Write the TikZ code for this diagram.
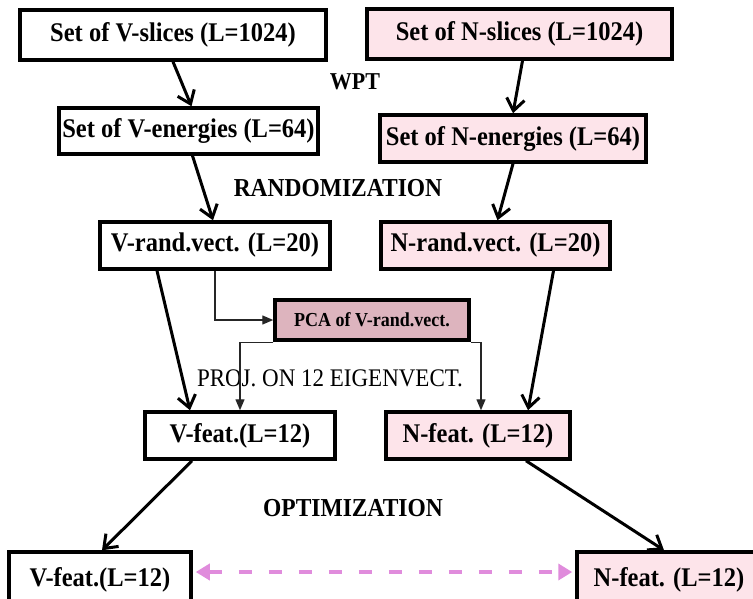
\documentclass[tikz,border=0pt]{standalone}
\usepackage{graphicx}
\usepackage{fontspec}
\setmainfont{Liberation Serif}
\usetikzlibrary{arrows.meta,calc}
\definecolor{npink}{RGB}{253,228,234}
\definecolor{pcapink}{RGB}{221,180,190}
\definecolor{dashpink}{RGB}{224,140,220}
\newcommand{\tallt}[1]{\scalebox{1}[1.1]{#1}}
\begin{document}
\begin{tikzpicture}[x=1pt,y=-1pt,
  box/.style={draw=black, line width=3.5pt, inner sep=0pt, font=\bfseries\fontsize{24.5}{28}\selectfont},
  vbox/.style={box, fill=white},
  nbox/.style={box, fill=npink},
  pcabox/.style={box, fill=pcapink, font=\bfseries\fontsize{18}{22}\selectfont},
  bigarrow/.style={line width=3pt, -{Straight Barb[length=12pt,width=18pt]}},
  thinarrow/.style={line width=1.4pt, draw=black!85, -{Triangle[length=11pt,width=9pt]}},
  dasharrow/.style={line width=4pt, draw=dashpink, dash pattern=on 13pt off 17pt, {Triangle[length=14pt,width=16pt]}-{Triangle[length=14pt,width=16pt]}},
  lab/.style={font=\bfseries\fontsize{23.5}{28}\selectfont},
  plainlab/.style={font=\fontsize{23}{28}\selectfont}]
\useasboundingbox (0,0) rectangle (753,598);
\clip (0,0) rectangle (753,598);
\fill[white] (0,0) rectangle (753,598);

\node[vbox, minimum width=306pt, minimum height=50pt] (v1) at (173,35) {\tallt{Set of V-slices (L=1024)}};
\node[nbox, minimum width=305pt, minimum height=50pt] (n1) at (519.5,34) {\tallt{Set of N-slices (L=1024)}};
\node[vbox, minimum width=259pt, minimum height=46pt] (v2) at (188.5,131) {\tallt{Set of V-energies (L=64)}};
\node[nbox, minimum width=266pt, minimum height=47pt] (n2) at (513,138.5) {\tallt{Set of N-energies (L=64)}};
\node[vbox, minimum width=230pt, minimum height=47pt] (v3) at (215,245.5) {\tallt{V-rand.vect. (L=20)}};
\node[nbox, minimum width=229pt, minimum height=47pt] (n3) at (495.5,245.5) {\tallt{N-rand.vect. (L=20)}};
\node[pcabox, minimum width=194pt, minimum height=40pt] (pca) at (372,320) {\tallt{PCA of V-rand.vect.}};
\node[vbox, minimum width=190pt, minimum height=47pt] (v4) at (240,435.5) {\tallt{V-feat.(L=12)}};
\node[nbox, minimum width=184pt, minimum height=47pt] (n4) at (478,435.5) {\tallt{N-feat. (L=12)}};
\node[vbox, minimum width=182pt, minimum height=56pt] (v5) at (100,580) {\tallt{V-feat.(L=12)}};
\node[nbox, minimum width=184pt, minimum height=56pt] (n5) at (669,580) {\tallt{N-feat. (L=12)}};

\node[lab, font=\bfseries\fontsize{22}{26}\selectfont] (wpt) at (355,82) {\tallt{WPT}};
\node[lab] (rand) at (338,188) {\tallt{RANDOMIZATION}};
\node[plainlab] (proj) at (330,378) {\tallt{PROJ. ON 12 EIGENVECT.}};
\node[lab] (opt) at (353,508) {\tallt{OPTIMIZATION}};

\draw[bigarrow] (v1.south) -- ([xshift=3pt]v2.north);
\draw[bigarrow] ([xshift=3pt]n1.south) -- (n2.north);
\draw[bigarrow] ([xshift=4pt]v2.south) -- ([xshift=-2pt]v3.north);
\draw[bigarrow] (n2.south) -- ([xshift=2pt]n3.north);
\draw[bigarrow] ([xshift=-58pt]v3.south) -- ([xshift=-50pt]v4.north);
\draw[bigarrow] ([xshift=58pt]n3.south) -- ([xshift=50pt]n4.north);
\draw[thinarrow] (v3.south) |- (pca.west);
\draw[thinarrow] ([yshift=-1pt]pca.south west) -| (v4.north);
\draw[thinarrow] ([yshift=-1pt]pca.south east) -| ([xshift=3pt]n4.north);
\draw[bigarrow] ([xshift=-48pt]v4.south) -- ([xshift=2pt]v5.north);
\draw[bigarrow] ([xshift=48pt]n4.south) -- ([xshift=-5pt]n5.north);
\draw[dasharrow] ([yshift=8pt,xshift=3pt]v5.east) -- ([yshift=8pt,xshift=-3pt]n5.west);
\end{tikzpicture}
\end{document}
